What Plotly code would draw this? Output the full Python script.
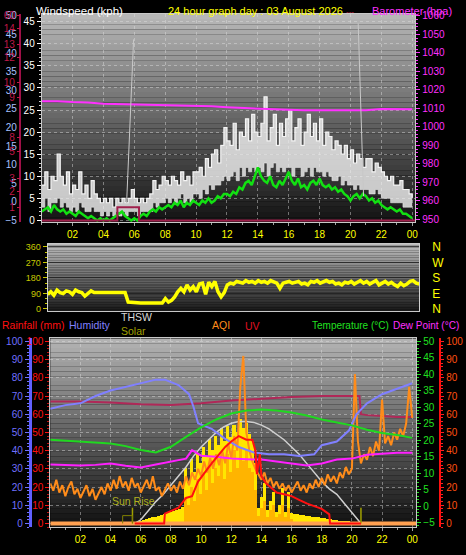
import numpy as np
import plotly.graph_objects as go

W, H = 466, 555

# ---------------- TOP PANEL DATA (wind / barometer) ----------------
t_wind = np.round(np.arange(0, 24.01, 0.2), 1)
gust_high = [8, 11, 7, 10, 9, 15, 10, 8, 11, 6,
             8, 7, 11, 6, 8, 5, 9, 6, 5, 4,
             5, 4, 5, 3, 5, 4, 5, 4, 5, 7,
             5, 4, 5, 4, 5, 6, 9, 7, 8, 10,
             9, 8, 10, 9, 8, 11, 9, 10, 8, 11,
             11, 12, 10, 14, 12, 15, 16, 13, 17, 21,
             18, 17, 22, 16, 20, 19, 23, 18, 24, 20,
             19, 22, 28, 18, 21, 24, 17, 22, 19, 23,
             25, 18, 21, 23, 17, 20, 24, 19, 22, 18,
             23, 17, 20, 19, 16, 18, 17, 15, 17, 14,
             16, 13, 15, 14, 12, 14, 14, 11, 13, 12,
             11, 10, 9, 10, 8, 8, 9, 7, 7, 6,
             5]
gust_low = [3, 5, 2, 4, 4, 5, 3, 4, 3, 2,
            3, 2, 4, 3, 2, 2, 3, 2, 2, 1,
            2, 1, 2, 1, 2, 1, 2, 1, 2, 2,
            2, 1, 2, 2, 2, 2, 4, 3, 4, 4,
            5, 4, 5, 4, 5, 6, 4, 5, 4, 6,
            6, 5, 7, 6, 8, 7, 8, 8, 9, 10,
            9, 10, 11, 9, 12, 10, 12, 11, 12, 11,
            12, 11, 13, 10, 12, 13, 11, 12, 11, 12,
            12, 10, 12, 12, 10, 11, 12, 10, 12, 11,
            11, 10, 11, 10, 9, 9, 10, 8, 9, 8,
            8, 7, 8, 7, 7, 7, 6, 6, 7, 6,
            5, 5, 5, 4, 4, 4, 4, 3, 3, 3,
            3]
avg_kph = [2, 2.5, 3, 2, 3.5, 2.5, 2, 2.5, 1.5, 2,
           1.5, 1, 2, 1.5, 1, 0.5, 1, 0.5, 0, 0.5,
           0, 0.5, 0, 0.5, 1, 1.5, 2, 1, 0.5, 0,
           0.5, 0, 1, 1.5, 1, 2, 2.5, 2, 3, 2.5,
           3, 3.5, 3, 4, 3.5, 4.5, 3, 4, 3.5, 4.5,
           4, 3.5, 4.5, 4, 5, 4, 4.5, 5.5, 5, 6,
           6, 5.5, 6.5, 6, 7.5, 7, 8.5, 9, 8, 10,
           12, 10, 9, 8.5, 10, 8, 7.5, 9, 8, 9.5,
           11, 9, 8, 9.5, 7.5, 8, 7, 8.5, 9, 8,
           9.5, 8, 7.5, 8, 7, 7.5, 6.5, 7, 6, 5.5,
           4.5, 5.5, 6, 5, 6, 5.5, 4.5, 5, 4, 4.5,
           3.5, 3, 2.5, 3, 2.5, 2, 2.5, 1.5, 1.5, 1,
           0.5]
t_baro = list(range(25))
baro_hpa = [1013.9, 1013.9, 1013.4, 1013.2, 1012.5, 1012.3, 1012.0, 1011.8, 1011.8,
            1011.8, 1011.3, 1011.1, 1010.6, 1010.2, 1009.6, 1009.4, 1009.2, 1009.0,
            1008.9, 1008.8, 1008.8, 1009.0, 1009.6, 1009.6, 1009.5]
t_rain = [0, 4.9, 4.9, 6.3, 6.3, 24.2]
rain_rate = [0, 0, 3, 3, 0, 0]
t_sun1 = [5.5, 5.95]
sun1 = [-0.2, 43.7]
t_sun2 = [20.5, 20.85]
sun2 = [48.0, 1.5]

# ---------------- MIDDLE PANEL DATA (wind direction) ----------------
t_dir = np.round(np.arange(0, 24.01, 0.2), 1)
direction = [85, 100, 80, 110, 95, 90, 105, 100, 85, 110,
             100, 95, 75, 90, 105, 95, 95, 95, 95, 95,
             95, 95, 95, 95, 95, 95, 40, 38, 35, 35,
             35, 35, 35, 35, 35, 35, 35, 35, 60, 40,
             50, 70, 100, 120, 100, 140, 110, 130, 100, 145,
             150, 85, 155, 130, 160, 100, 70, 95, 140, 150,
             145, 160, 155, 150, 165, 155, 160, 150, 165, 155,
             160, 150, 165, 155, 150, 120, 150, 155, 160, 150,
             155, 160, 145, 150, 140, 160, 155, 165, 150, 160,
             165, 155, 160, 145, 150, 140, 155, 150, 160, 145,
             155, 165, 150, 160, 145, 155, 165, 140, 150, 160,
             145, 155, 140, 130, 150, 135, 145, 160, 165, 150,
             145]
compass_labels = ["N", "E", "S", "W", "N"]

# ---------------- BOTTOM PANEL DATA ----------------
t_aqi = np.round(np.arange(0, 24.01, 0.2), 1)
aqi = [22, 18, 24, 17, 21, 15, 20, 23, 16, 19,
       14, 18, 21, 15, 19, 13, 17, 20, 16, 22,
       18, 24, 19, 26, 20, 23, 18, 25, 20, 22,
       17, 21, 24, 19, 26, 18, 20, 15, 19, 22,
       18, 21, 17, 23, 19, 26, 21, 28, 24, 30,
       26, 34, 28, 36, 30, 38, 32, 40, 33, 44,
       36, 48, 40, 75, 92, 50, 40, 34, 30, 27,
       24, 28, 22, 25, 20, 23, 19, 22, 18, 21,
       17, 20, 23, 18, 21, 17, 22, 19, 24, 20,
       25, 21, 27, 23, 26, 22, 28, 25, 31, 27,
       30, 82, 45, 33, 38, 35, 42, 37, 45, 40,
       68, 44, 48, 43, 50, 46, 52, 48, 55, 75,
       58]
t_solar = np.round(np.arange(5.6, 20.61, 0.2), 1)
solar = [0, 0.5, 1, 1.5, 2, 2.5, 3, 3.5, 4, 4.5,
         5, 5.5, 6, 6.5, 7, 7.5, 9, 30, 22, 35,
         28, 38, 33, 42, 36, 46, 40, 48, 43, 52,
         45, 53, 47, 54, 50, 57, 52, 55, 49, 45,
         33, 8, 14, 22, 7, 12, 17, 6, 10, 19,
         6, 17, 5.5, 5, 4.8, 4.5, 4.2, 4, 3.7, 3.4,
         3.2, 3, 2.7, 2.5, 2.2, 2, 1.7, 1.5, 1.3, 1.1,
         0.9, 0.7, 0.5, 0.3, 0.1, 0]
solar_body = [0, 0, 0, 0, 0, 0, 0, 0, 0, 0,
              0, 0, 0, 0, 0, 0, 0, 14, 10, 20,
              12, 24, 16, 28, 18, 32, 22, 30, 26, 36,
              24, 38, 28, 40, 30, 42, 34, 40, 30, 28,
              18, 4, 8, 12, 3, 7, 10, 3, 5, 10,
              3, 8, 2, 0, 0, 0, 0, 0, 0, 0,
              0, 0, 0, 0, 0, 0, 0, 0, 0, 0,
              0, 0, 0, 0, 0, 0]
t_hum = [0, 1, 2, 3, 4, 5, 6, 7, 7.6, 8.5, 9.2, 9.5, 9.8, 10.7, 11.5, 12.5, 13.5, 14.5,
         15.5, 16.5, 17.5, 18, 19, 19.8, 20.3, 21, 22, 23, 24]
humidity = [63, 65, 66, 70, 73, 75, 77, 79, 79, 76, 71, 64, 55, 52, 47, 42, 39, 38,
            38, 37, 38, 43, 45, 51, 60, 66, 71, 74, 77]
t_in = [0, 2, 4, 6, 8, 10, 12, 14, 16, 18, 20, 20.5, 20.6, 21, 22, 23, 24]
indoor = [67, 67, 66.5, 65.5, 65, 66, 67.5, 68.5, 69.5, 70, 70, 70, 60, 59.5, 59, 58.5, 58.5]
t_thsw = [5.6, 6, 6.5, 7, 7.5, 8, 8.5, 9, 9.5, 10, 10.5, 11, 11.5, 12, 12.5, 13, 13.5,
          14, 14.5, 15, 15.5, 16, 16.5, 17, 17.5, 18, 18.5, 19, 19.5, 20, 20.6]
thsw = [0, 2, 7, 12, 16, 21, 26, 31, 37, 42, 46, 50, 53, 55, 56, 56, 55.5,
        54, 52, 49, 46, 42, 38, 33, 28, 23, 19, 16, 11, 6, 0]
t_temp = list(range(25))
temperature = [20.1, 19.8, 19.5, 19.2, 19.0, 18.2, 17.0, 16.3, 18.0, 21.0, 23.9, 26.3, 28.1,
               29.0, 29.3, 29.0, 28.4, 27.5, 26.3, 25.4, 24.5, 23.2, 22.2, 21.6, 20.7]
t_dew = [0, 1, 2, 3, 4, 5, 6, 7, 8, 9, 9.4, 10, 11, 12, 13, 14, 15, 16, 17, 18, 19, 20,
         21, 22, 23, 24]
dewpoint = [12.6, 12.4, 12.3, 12.5, 12.9, 12.2, 11.7, 12.6, 13.5, 14.4, 17.0, 15.3, 15.0,
            14.4, 14.2, 14.1, 13.5, 12.9, 12.3, 12.9, 14.1, 14.4, 15.6, 15.9, 16.2, 16.2]
t_uv = [5.6, 7.55, 7.6, 8.5, 9.0, 9.4, 9.8, 10.3, 10.7, 11.6, 12, 12.5, 13, 13.4, 13.6,
        13.7, 13.9, 14.0, 14.3, 14.6, 15, 15.5, 16, 16.5, 17, 17.5, 18, 18.5, 18.55, 20.6]
uv = [0, 0, 5.4, 8.6, 14, 15, 23, 28.6, 33, 42, 45, 48, 46, 46, 40,
      27, 38, 26, 22, 20, 17, 16, 15, 13, 11, 9.5, 8, 5, 0, 0]
t_base = [0, 24.27]
base = [0, 0]
t_sunrise = [5.45, 5.45]
sunrise_mark = [0, 8.6]
t_sunrise_box = [4.8, 4.8, 5.45, 5.45]
sunrise_box = [0, 4.3, 4.3, 0]
t_sunset = [20.6, 20.6]
sunset_mark = [0, 8.6]

hour_ticks = [2, 4, 6, 8, 10, 12, 14, 16, 18, 20, 22, 24]
hour_labels = ["02", "04", "06", "08", "10", "12", "14", "16", "18", "20", "22", "00"]
red_top_labels = ["60", "14", "13", "12", "10", "9", "8", "5", "3", "2", "1"]
red_top_vals = [46.3, 43.4, 39.9, 36.8, 31.2, 27.8, 18.7, 15.6, 9.6, 6.5, 2.9]

FONT = "Liberation Sans"


def px(p):
    return p / W


def py(p):
    return 1 - p / H


fig = go.Figure()

# ---- top panel traces
fig.add_trace(go.Scatter(x=t_rain, y=rain_rate, mode="lines", line=dict(color="#a0204c", width=2),
                         xaxis="x", yaxis="y4"))
fig.add_trace(go.Scatter(x=t_sun1, y=sun1, mode="lines", line=dict(color="#c8c8c8", width=1),
                         xaxis="x", yaxis="y3"))
fig.add_trace(go.Scatter(x=t_sun2, y=sun2, mode="lines", line=dict(color="#c8c8c8", width=1),
                         xaxis="x", yaxis="y3"))
fig.add_trace(go.Scatter(x=t_wind, y=gust_low, mode="lines",
                         line=dict(color="rgba(235,235,235,0.6)", width=1, shape="hv"),
                         xaxis="x", yaxis="y"))
fig.add_trace(go.Scatter(x=t_wind, y=gust_high, mode="lines", fill="tonexty",
                         fillcolor="rgba(238,238,238,0.82)",
                         line=dict(color="#f4f4f4", width=1.2, shape="hv"),
                         xaxis="x", yaxis="y"))
fig.add_trace(go.Scatter(x=t_wind, y=avg_kph, mode="lines", line=dict(color="#12e012", width=2.5),
                         xaxis="x", yaxis="y"))
fig.add_trace(go.Scatter(x=t_baro, y=baro_hpa, mode="lines", line=dict(color="#ff30ff", width=2),
                         xaxis="x", yaxis="y2"))

# ---- middle panel
fig.add_trace(go.Scatter(x=t_dir, y=direction, mode="lines", line=dict(color="#ffff00", width=3.5),
                         xaxis="x2", yaxis="y5"))
fig.add_trace(go.Scatter(x=t_dir, y=direction, mode="lines", line=dict(color="rgba(0,0,0,0)", width=0),
                         xaxis="x2", yaxis="y6"))

# ---- bottom panel
fig.add_trace(go.Bar(x=t_solar, y=solar, width=0.2, marker=dict(color="#ffe600", line=dict(width=0)),
                     xaxis="x3", yaxis="y7"))
fig.add_trace(go.Bar(x=t_solar, y=solar_body, width=0.2, marker=dict(color="#ffb400", line=dict(width=0)),
                     xaxis="x3", yaxis="y7"))
fig.add_trace(go.Scatter(x=t_in, y=indoor, mode="lines", line=dict(color="#b02858", width=2),
                         xaxis="x3", yaxis="y7"))
fig.add_trace(go.Scatter(x=t_thsw, y=thsw, mode="lines", line=dict(color="#cfcfcf", width=1.5),
                         xaxis="x3", yaxis="y7"))
fig.add_trace(go.Scatter(x=t_hum, y=humidity, mode="lines", line=dict(color="#8080ff", width=2),
                         xaxis="x3", yaxis="y8"))
fig.add_trace(go.Scatter(x=t_temp, y=temperature, mode="lines", line=dict(color="#20d820", width=2),
                         xaxis="x3", yaxis="y9"))
fig.add_trace(go.Scatter(x=t_dew, y=dewpoint, mode="lines", line=dict(color="#ff20ff", width=2),
                         xaxis="x3", yaxis="y9"))
fig.add_trace(go.Scatter(x=t_aqi, y=aqi, mode="lines", line=dict(color="#ff8c1a", width=2),
                         xaxis="x3", yaxis="y7"))
fig.add_trace(go.Scatter(x=t_base, y=base, mode="lines", line=dict(color="#ffa050", width=4),
                         xaxis="x3", yaxis="y7"))
fig.add_trace(go.Scatter(x=t_uv, y=uv, mode="lines", line=dict(color="#ff1010", width=2),
                         xaxis="x3", yaxis="y10"))
fig.add_trace(go.Scatter(x=t_sunrise, y=sunrise_mark, mode="lines", line=dict(color="#a0a000", width=1.5),
                         xaxis="x3", yaxis="y7"))
fig.add_trace(go.Scatter(x=t_sunrise_box, y=sunrise_box, mode="lines", line=dict(color="#808000", width=1),
                         xaxis="x3", yaxis="y7"))
fig.add_trace(go.Scatter(x=t_sunset, y=sunset_mark, mode="lines", line=dict(color="#a0a000", width=1.5),
                         xaxis="x3", yaxis="y7"))

# ---- gradient backgrounds
shapes = []


def gradient(xr, yr, top, bottom, n=40):
    for i in range(n):
        lvl = int(round(bottom + (top - bottom) * (i + 0.5) / n))
        shapes.append(dict(type="rect", xref=f"{xr} domain", yref=f"{yr} domain",
                           x0=0, x1=1, y0=i / n, y1=(i + 1) / n, line=dict(width=0),
                           fillcolor=f"rgb({lvl},{lvl},{lvl})", layer="below"))


gradient("x", "y", 185, 18)
gradient("x2", "y5", 190, 25)
gradient("x3", "y7", 180, 15)

grid = "rgba(225,225,225,0.45)"

fig.update_layout(
    width=W, height=H, margin=dict(l=0, r=0, t=0, b=0),
    paper_bgcolor="black", plot_bgcolor="black", showlegend=False,
    barmode="overlay", bargap=0, shapes=shapes, font=dict(family=FONT),
    xaxis=dict(domain=[px(42), px(418)], range=[0, 24.2], anchor="y",
               tickvals=hour_ticks, ticktext=hour_labels, tickfont=dict(family=FONT, size=10, color="#ffff00"),
               ticks="outside", ticklen=3, tickcolor="#a0a0a0",
               minor=dict(dtick=1, ticks="outside", ticklen=2, tickcolor="#a0a0a0"),
               showgrid=True, gridcolor=grid, griddash="dot",
               showline=True, linecolor="#c8c8c8", linewidth=1, mirror=True, zeroline=False),
    yaxis=dict(domain=[py(222), py(10)], range=[-0.45, 46.78], anchor="x",
               dtick=5, tickfont=dict(family=FONT, size=10, color="white"),
               ticks="outside", ticklen=4, tickcolor="white",
               minor=dict(dtick=1, ticks="outside", ticklen=2, tickcolor="#d0d0d0"),
               showgrid=True, gridcolor=grid, griddash="dot", zeroline=False,
               showline=True, linecolor="#c8c8c8", mirror=True),
    yaxis2=dict(overlaying="y", side="right", anchor="x", range=[948.4, 1061.06], dtick=10,
                tickfont=dict(family=FONT, size=10, color="#ff30ff"),
                ticks="outside", ticklen=4, tickcolor="#ff30ff",
                minor=dict(dtick=2, ticks="outside", ticklen=2, tickcolor="#ff30ff"),
                showgrid=False, zeroline=False),
    yaxis3=dict(overlaying="y", side="left", anchor="free", position=px(20),
                range=[-5.53, 50.56], dtick=5, tickfont=dict(family=FONT, size=10, color="#a8c0ff"),
                ticks="", showline=True, linecolor="#a01048", linewidth=2,
                showgrid=False, zeroline=False),
    yaxis4=dict(overlaying="y", side="left", anchor="free", position=px(20),
                range=[-0.45, 46.78], tickvals=red_top_vals, ticktext=red_top_labels,
                tickfont=dict(family=FONT, size=10, color="#c01848"),
                ticks="outside", ticklen=3, tickcolor="#c01848",
                showgrid=False, zeroline=False, showline=False),
    xaxis2=dict(domain=[px(48), px(422)], range=[0, 24], anchor="y5", showticklabels=False,
                ticks="", showgrid=False, zeroline=False,
                showline=True, linecolor="#c8c8c8", mirror=True),
    yaxis5=dict(domain=[py(312), py(244)], range=[-11.4, 377.1], anchor="x2",
                tickvals=[0, 90, 180, 270, 360], tickfont=dict(family=FONT, size=9, color="#c8c800"),
                ticks="outside", ticklen=4, tickcolor="#c8c800",
                minor=dict(dtick=30, ticks="outside", ticklen=2, tickcolor="#c8c800"),
                showgrid=True, gridcolor="rgba(30,30,30,0.8)", zeroline=False,
                showline=True, linecolor="#d0d0d0", mirror=True),
    yaxis6=dict(overlaying="y5", side="right", anchor="free", position=px(434),
                range=[-11.4, 377.1], tickvals=[0, 90, 180, 270, 360], ticktext=compass_labels,
                tickfont=dict(family=FONT, size=12, color="#ffff00"), ticks="",
                showgrid=False, zeroline=False, showline=False),
    xaxis3=dict(domain=[px(50.6), px(419)], range=[0, 24.27], anchor="y7",
                tickvals=hour_ticks, ticktext=hour_labels, tickfont=dict(family=FONT, size=10, color="#ffff00"),
                ticks="outside", ticklen=3, tickcolor="#a0a0a0",
                minor=dict(dtick=1, ticks="outside", ticklen=2, tickcolor="#a0a0a0"),
                showgrid=True, gridcolor=grid, griddash="dot",
                showline=True, linecolor="#c8c8c8", mirror=True, zeroline=False),
    yaxis7=dict(domain=[py(532), py(340)], range=[-2.16, 101.6], anchor="x3", dtick=10,
                tickfont=dict(family=FONT, size=10, color="#ff1010"),
                ticks="outside", ticklen=4, tickcolor="#ff1010",
                minor=dict(dtick=2, ticks="outside", ticklen=2, tickcolor="#c01010"),
                showgrid=True, gridcolor=grid, griddash="dot", zeroline=False,
                showline=True, linecolor="#c8c8c8", mirror=True),
    yaxis8=dict(overlaying="y7", side="left", anchor="free", position=px(30),
                range=[-2.16, 101.6], dtick=10, tickfont=dict(family=FONT, size=10, color="#7070ff"),
                ticks="outside", ticklen=4, tickcolor="#7070ff",
                minor=dict(dtick=2, ticks="outside", ticklen=2, tickcolor="#7070ff"),
                showline=True, linecolor="#6060ff", linewidth=3, showgrid=False, zeroline=False),
    yaxis9=dict(overlaying="y7", side="right", anchor="x3", range=[-6.49, 50.9], dtick=5,
                tickfont=dict(family=FONT, size=10, color="#20e020"),
                ticks="outside", ticklen=4, tickcolor="#20e020",
                minor=dict(dtick=1, ticks="outside", ticklen=2, tickcolor="#20e020"),
                showgrid=False, zeroline=False),
    yaxis10=dict(overlaying="y7", side="right", anchor="free", position=px(443),
                 range=[-2.16, 101.6], dtick=10, tickfont=dict(family=FONT, size=10, color="#ff5010"),
                 ticks="outside", ticklen=3, tickcolor="#ff2020",
                 minor=dict(dtick=2, ticks="outside", ticklen=2, tickcolor="#ff2020"),
                 showline=True, linecolor="#ff1010", linewidth=2, showgrid=False, zeroline=False),
)


def label(text, x, y, color, size=10.5, xanchor="left"):
    fig.add_annotation(text=text, x=px(x), y=py(y), xref="paper", yref="paper",
                       xanchor=xanchor, yanchor="middle", showarrow=False,
                       font=dict(family=FONT, size=size, color=color))


label("Windspeed (kph)", 34, 7, "white", size=11.5)
label("24 hour graph day : 03 August 2026", 257, 7, "#ffff00", size=11, xanchor="center")
label("---", 346, 8, "#c02040", size=8)
label("Barometer (hpa)", 372, 7, "#ff30ff", size=11)
label("Rainfall (mm)", 0, 326, "#ff1010")
label("Humidity", 67, 326, "#8080ff")
label("THSW", 120, 318, "#d8d8d8")
label("Solar", 120, 332, "#a0a000")
label("AQI", 211, 326, "#ff8c1a")
label("UV", 245, 327, "#e01020")
label("Temperature (°C)", 312, 327, "#20e020", size=10)
label("Dew Point (°C)", 464, 327, "#ff30ff", size=10, xanchor="right")
fig.add_annotation(text="Sun Rise", x=5.5, y=12.5, xref="x3", yref="y7", showarrow=False,
                   xanchor="center", yanchor="middle", font=dict(family=FONT, size=10.5, color="#b0b020"))

fig.write_html("out.html", config={"displayModeBar": False},
               post_script="document.body.style.margin='0';document.body.style.background='black';")
